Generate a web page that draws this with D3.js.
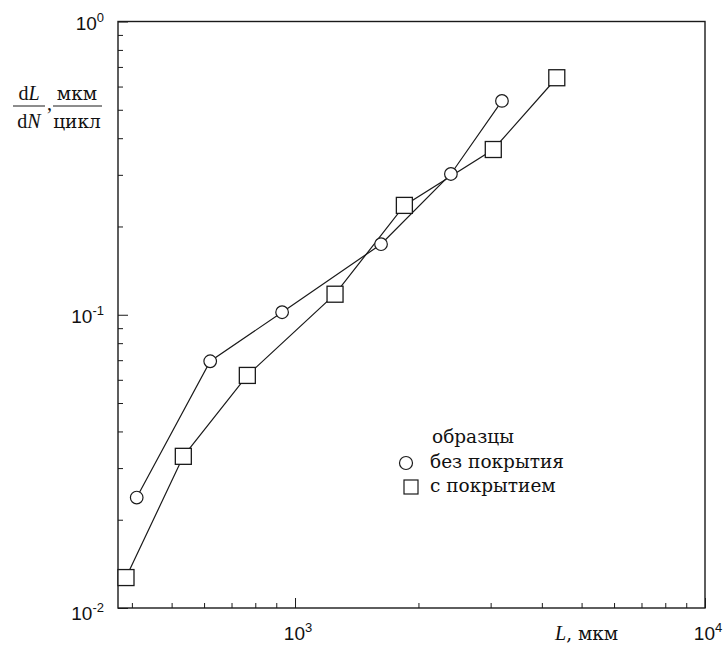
<!DOCTYPE html>
<html>
<head>
<meta charset="utf-8">
<script src="https://cdn.jsdelivr.net/npm/d3@7"></script>
<style>
    body{margin:0; background:#fff}
    .tick-label{font-family:"Liberation Sans", Arial, sans-serif; font-size:19px; fill:#111}
    .serif{font-family:"Liberation Serif", "Times New Roman", serif; fill:#111}
    .cyr{font-family:"DejaVu Serif", serif; fill:#111}
</style>
</head>
<body>
<script>
// crack length L (mkm) and growth rate dL/dN (mkm/cycle)
let lengthBare = [411, 621, 930, 1621, 2400, 3197]
let rateBare = [0.0238, 0.0694, 0.102, 0.174, 0.302, 0.536]

let lengthCoated = [387, 534, 765, 1252, 1848, 3045, 4350]
let rateCoated = [0.0127, 0.0329, 0.0621, 0.1175, 0.236, 0.366, 0.643]

let xMajor = [1000, 10000]
let xMajorExp = ["3", "4"]
let xMinor = [400, 500, 600, 700, 800, 900, 2000, 3000, 4000, 5000, 6000, 7000, 8000, 9000]
let yMajor = [1, 0.1, 0.01]
let yMajorExp = ["0", "-1", "-2"]
let yMinor = [0.02, 0.03, 0.04, 0.05, 0.06, 0.07, 0.08, 0.09, 0.2, 0.3, 0.4, 0.5, 0.6, 0.7, 0.8, 0.9]

let legendTitle = "образцы"
let legendNames = ["без покрытия", "с покрытием"]

let width = 725
let height = 646
// plot box edges (window.top is taken, so prefix them)
let boxLeft = 118, boxRight = 705, boxTop = 21.5, boxBottom = 608

let ink = "#1a1a1a"
let textSize = "20px"
let cyrSize = "18.5px" // dejavu serif runs wider than times

let x = d3.scaleLog().domain([370, 10000]).range([boxLeft, boxRight])
let y = d3.scaleLog().domain([0.01, 1]).range([boxBottom, boxTop])

let svg = d3.select("body")
    .append("svg")
    .attr("width", width)
    .attr("height", height)

// frame
svg.append("rect")
    .attr("x", boxLeft)
    .attr("y", boxTop)
    .attr("width", boxRight - boxLeft)
    .attr("height", boxBottom - boxTop)
    .attr("fill", "none")
    .attr("stroke", ink)
    .attr("stroke-width", 1.4)

// ticks point inward, labels drawn separately
function styleAxis(g){
    g.select(".domain").remove()
    g.selectAll(".tick line").attr("stroke", ink).attr("stroke-width", 1)
    g.selectAll(".tick text").remove()
}

svg.append("g")
    .attr("transform", "translate(0," + boxBottom + ")")
    .call(d3.axisBottom(x).tickValues(xMinor).tickSize(-5))
    .call(styleAxis)
svg.append("g")
    .attr("transform", "translate(0," + boxBottom + ")")
    .call(d3.axisBottom(x).tickValues(xMajor).tickSize(-10))
    .call(styleAxis)

svg.append("g")
    .attr("transform", "translate(" + boxLeft + ",0)")
    .call(d3.axisLeft(y).tickValues(yMinor).tickSize(-5))
    .call(styleAxis)
svg.append("g")
    .attr("transform", "translate(" + boxLeft + ",0)")
    .call(d3.axisLeft(y).tickValues(yMajor).tickSize(-10))
    .call(styleAxis)

// power-of-ten labels
let xl = svg.selectAll("text.xlab")
    .data(xMajor)
    .enter()
    .append("text")
    .attr("class", "tick-label xlab")
    .attr("x", function(d){return x(d) + 3})
    .attr("y", 640)
    .attr("text-anchor", "middle")
xl.append("tspan").text("10")
xl.append("tspan")
    .attr("dy", -8)
    .style("font-size", "13px")
    .text(function(d, i){return xMajorExp[i]})

let yl = svg.selectAll("text.ylab")
    .data(yMajor)
    .enter()
    .append("text")
    .attr("class", "tick-label ylab")
    .attr("x", 104)
    .attr("y", function(d){return d == 0.01 ? y(d) + 12 : y(d) + 8})
    .attr("text-anchor", "end")
yl.append("tspan").text("10")
yl.append("tspan")
    .attr("dy", -8)
    .style("font-size", "13px")
    .text(function(d, i){return yMajorExp[i]})

// axis titles
let xt = svg.append("text")
    .attr("x", 555)
    .attr("y", 640)
xt.append("tspan")
    .attr("class", "serif")
    .style("font-size", textSize)
    .style("font-style", "italic")
    .text("L")
xt.append("tspan")
    .attr("class", "cyr")
    .style("font-size", cyrSize)
    .text(", мкм")

// stacked fraction: top text, bar, bottom text
function fraction(cx, topText, bottomText, cls, size, lineLeft, lineRight){
    svg.append("text")
        .attr("class", cls)
        .attr("x", cx)
        .attr("y", 100)
        .attr("text-anchor", "middle")
        .style("font-size", size)
        .html(topText)

    svg.append("line")
        .attr("x1", lineLeft)
        .attr("x2", lineRight)
        .attr("y1", 106)
        .attr("y2", 106)
        .attr("stroke", ink)
        .attr("stroke-width", 1)

    svg.append("text")
        .attr("class", cls)
        .attr("x", cx)
        .attr("y", 128)
        .attr("text-anchor", "middle")
        .style("font-size", size)
        .html(bottomText)
}
fraction(29, "d<tspan font-style='italic'>L</tspan>", "d<tspan font-style='italic'>N</tspan>", "serif", textSize, 13, 45)
svg.append("text")
    .attr("class", "serif")
    .attr("x", 47)
    .attr("y", 110)
    .style("font-size", textSize)
    .text(",")
fraction(77, "мкм", "цикл", "cyr", cyrSize, 53, 102)

// series
let bare = lengthBare.map(function(d, i){return [d, rateBare[i]]})
let coated = lengthCoated.map(function(d, i){return [d, rateCoated[i]]})

let line = d3.line()
    .x(function(d){return x(d[0])})
    .y(function(d){return y(d[1])})

let g = svg.append("g")

g.append("path")
    .datum(bare)
    .attr("d", line)
    .attr("fill", "none")
    .attr("stroke", ink)
    .attr("stroke-width", 1.2)
g.append("path")
    .datum(coated)
    .attr("d", line)
    .attr("fill", "none")
    .attr("stroke", ink)
    .attr("stroke-width", 1.2)

let sq = 16 // square marker side
g.selectAll("rect.pt")
    .data(coated)
    .enter()
    .append("rect")
    .attr("class", "pt")
    .attr("x", function(d){return x(d[0]) - sq / 2})
    .attr("y", function(d){return y(d[1]) - sq / 2})
    .attr("width", sq)
    .attr("height", sq)
    .attr("fill", "#fff")
    .attr("stroke", ink)
    .attr("stroke-width", 1.3)

g.selectAll("circle.pt")
    .data(bare)
    .enter()
    .append("circle")
    .attr("class", "pt")
    .attr("cx", function(d){return x(d[0])})
    .attr("cy", function(d){return y(d[1])})
    .attr("r", 6.3)
    .attr("fill", "#fff")
    .attr("stroke", ink)
    .attr("stroke-width", 1.2)

// legend
svg.append("text")
    .attr("class", "cyr")
    .attr("x", 432)
    .attr("y", 443)
    .style("font-size", cyrSize)
    .text(legendTitle)
svg.selectAll("text.leg")
    .data(legendNames)
    .enter()
    .append("text")
    .attr("class", "cyr leg")
    .attr("x", 430)
    .attr("y", function(d, i){return 468 + i * 24})
    .style("font-size", cyrSize)
    .text(function(d){return d})

svg.append("circle")
    .attr("cx", 406)
    .attr("cy", 463)
    .attr("r", 6.5)
    .attr("fill", "#fff")
    .attr("stroke", ink)
    .attr("stroke-width", 1.2)
svg.append("rect")
    .attr("x", 404)
    .attr("y", 480)
    .attr("width", 14)
    .attr("height", 14)
    .attr("fill", "#fff")
    .attr("stroke", ink)
    .attr("stroke-width", 1.2)
</script>
</body>
</html>
